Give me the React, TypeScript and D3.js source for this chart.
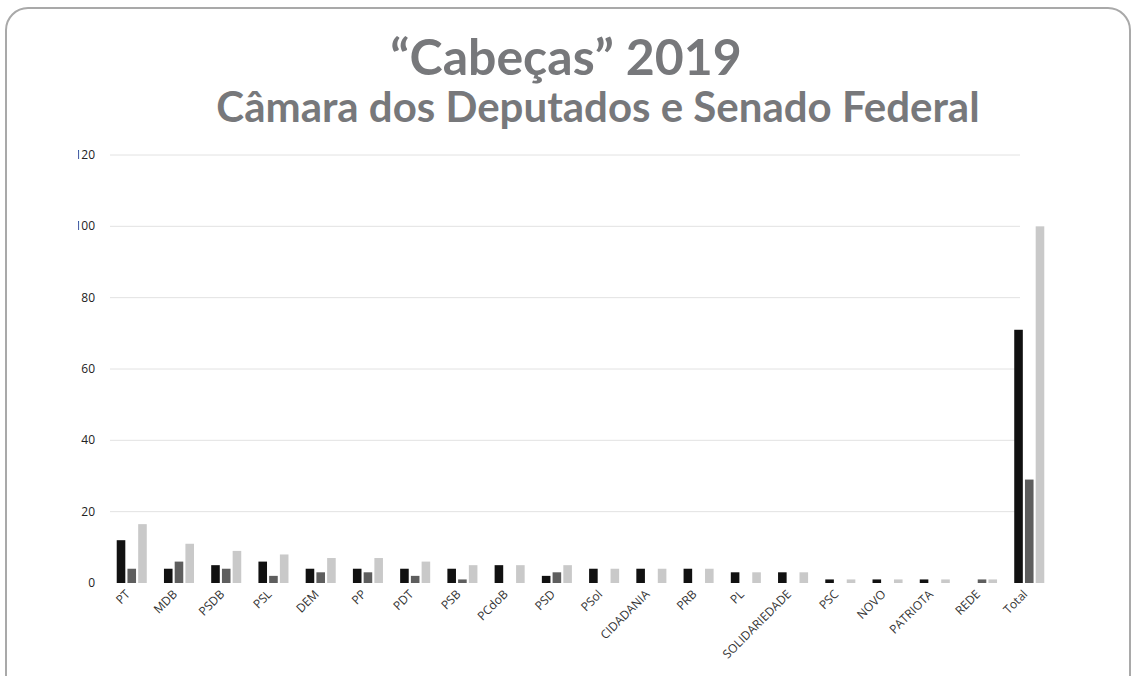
import React from 'react';
import * as d3 from 'd3';

const parties = ['PT', 'MDB', 'PSDB', 'PSL', 'DEM', 'PP', 'PDT', 'PSB', 'PCdoB', 'PSD', 'PSol', 'CIDADANIA', 'PRB', 'PL', 'SOLIDARIEDADE', 'PSC', 'NOVO', 'PATRIOTA', 'REDE', 'Total'];
const camara = [12, 4, 5, 6, 4, 4, 4, 4, 5, 2, 4, 4, 4, 3, 3, 1, 1, 1, 0, 71];
const senado = [4, 6, 4, 2, 3, 3, 2, 1, 0, 3, 0, 0, 0, 0, 0, 0, 0, 0, 1, 29];
const total = [16.5, 11, 9, 8, 7, 7, 6, 5, 5, 5, 4, 4, 4, 3, 3, 1, 1, 1, 1, 100];
const yTicks = [0, 20, 40, 60, 80, 100, 120];

const seriesColors = ['#111111', '#5e5e5e', '#c9c9c9'];

const W = 1136;
const H = 676;
const left = 112;
const right = 1049;
const top = 155;
const bottom = 583;

const App: React.FC = () => {
  const x = d3.scaleBand<string>().domain(parties).range([left, right]).paddingInner(0.364).paddingOuter(0.1);
  const sub = d3.scaleBand<number>().domain([0, 1, 2]).range([0, x.bandwidth()]).paddingInner(0.2);
  const y = d3.scaleLinear().domain([0, 120]).range([bottom, top]);
  const series = [camara, senado, total];

  return (
    <svg width={W} height={H} style={{ position: 'absolute', left: 0, top: 0, background: '#fff' }}>
      <defs>
        <clipPath id="yclip">
          <rect x={78} y={0} width={60} height={H} />
        </clipPath>
      </defs>
      <rect x={6} y={8} width={1124} height={720} rx={22} fill="#fff" stroke="#a9a9a9" strokeWidth={2} />
      <text x={566} y={75} textAnchor="middle" fontFamily="Lato" fontWeight={700} fontSize={50} fill="#77787b">
        “Cabeças” 2019
      </text>
      <text x={598} y={122} textAnchor="middle" fontFamily="Lato" fontWeight={700} fontSize={42} fill="#77787b">
        Câmara dos Deputados e Senado Federal
      </text>
      {yTicks.map(t => (
        <g key={t}>
          {t > 0 && <line x1={110} x2={1020} y1={y(t)} y2={y(t)} stroke="#e2e2e2" strokeWidth={1} />}
          <text x={95} y={y(t) + 4} textAnchor="end" fontFamily="Open Sans" fontSize={12} fill="#222" clipPath="url(#yclip)">
            {t}
          </text>
        </g>
      ))}
      {parties.map((p, i) => (
        <g key={p}>
          {series.map((s, k) => (
            <rect
              key={k}
              x={(x(p) as number) + (sub(k) as number)}
              y={y(s[i])}
              width={sub.bandwidth()}
              height={bottom - y(s[i])}
              fill={seriesColors[k]}
            />
          ))}
          <text
            transform={`translate(${(x(p) as number) + x.bandwidth() / 2 - 1},${bottom + 12}) rotate(-45)`}
            textAnchor="end"
            fontFamily="Open Sans"
            fontSize={12}
            fill="#333"
          >
            {p}
          </text>
        </g>
      ))}
    </svg>
  );
};

export default App;
